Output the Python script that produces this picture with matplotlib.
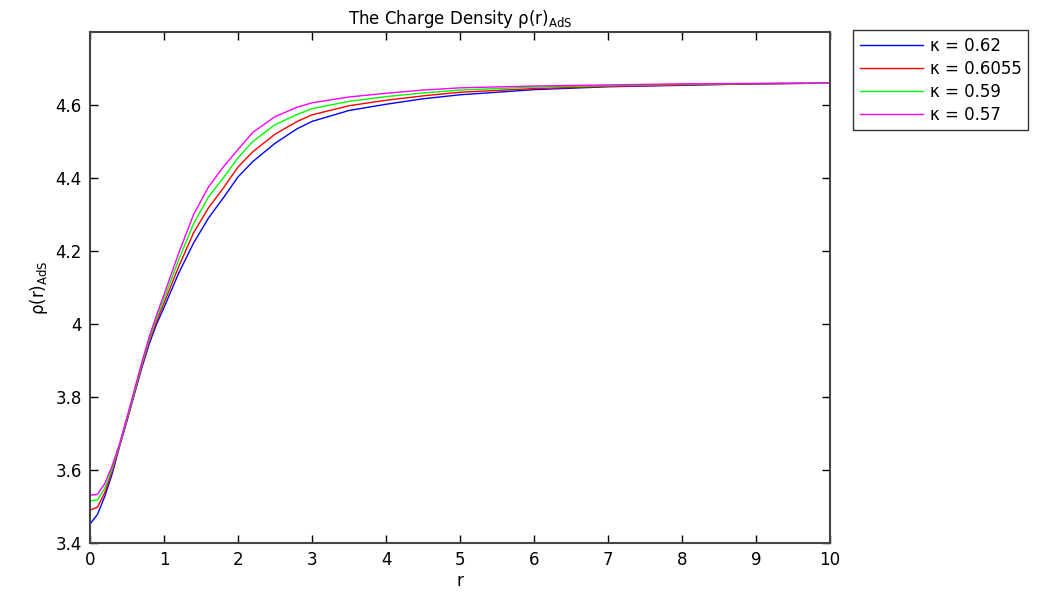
import matplotlib
matplotlib.use("Agg")
import matplotlib.pyplot as plt
from matplotlib.ticker import FuncFormatter

plt.rcParams['mathtext.default'] = 'regular'
plt.rcParams['font.family'] = ['DejaVu Sans']

r = [0, 0.1, 0.2, 0.3, 0.4, 0.5, 0.6, 0.7, 0.8, 0.9, 1.0, 1.2, 1.4, 1.6, 1.8,
     2.0, 2.2, 2.5, 2.8, 3.0, 3.5, 4.0, 4.5, 5.0, 6.0, 7.0, 8.0, 9.0, 10.0]

rho_062 = [3.452, 3.478, 3.528, 3.590, 3.665, 3.735, 3.808, 3.880, 3.945, 4.000,
           4.045, 4.140, 4.222, 4.290, 4.345, 4.403, 4.445, 4.495, 4.535, 4.555,
           4.585, 4.602, 4.617, 4.628, 4.642, 4.650, 4.654, 4.658, 4.660]
rho_06055 = [3.490, 3.498, 3.538, 3.598, 3.667, 3.738, 3.812, 3.885, 3.952, 4.008,
             4.057, 4.158, 4.250, 4.318, 4.372, 4.430, 4.472, 4.520, 4.555, 4.573,
             4.598, 4.613, 4.625, 4.635, 4.645, 4.651, 4.655, 4.658, 4.660]
rho_059 = [3.515, 3.518, 3.550, 3.605, 3.670, 3.742, 3.815, 3.890, 3.958, 4.017,
           4.068, 4.177, 4.275, 4.348, 4.400, 4.455, 4.500, 4.546, 4.574, 4.590,
           4.610, 4.623, 4.633, 4.641, 4.649, 4.653, 4.657, 4.659, 4.660]
rho_057 = [3.531, 3.533, 3.563, 3.612, 3.672, 3.745, 3.820, 3.895, 3.965, 4.025,
           4.080, 4.195, 4.300, 4.375, 4.430, 4.478, 4.525, 4.568, 4.594, 4.606,
           4.622, 4.632, 4.641, 4.647, 4.652, 4.655, 4.658, 4.659, 4.660]

labels = ['κ = 0.62', 'κ = 0.6055', 'κ = 0.59', 'κ = 0.57']
colors = ['#0000ff', '#ff0000', '#00ff00', '#ff00ff']
series = [rho_062, rho_06055, rho_059, rho_057]

fig = plt.figure(figsize=(10.37, 5.95), dpi=100)
ax = fig.add_axes([90/1037, 52/595, 740/1037, 511/595])

for y, c, lab in zip(series, colors, labels):
    ax.plot(r, y, color=c, lw=1.0, label=lab)

ax.set_xlim(0, 10)
ax.set_ylim(3.4, 4.8)
ax.set_xticks(range(0, 11))
ax.set_yticks([3.4, 3.6, 3.8, 4.0, 4.2, 4.4, 4.6])
ax.yaxis.set_major_formatter(FuncFormatter(lambda v, p: f"{v:g}"))
ax.tick_params(direction='in', top=True, right=True, length=6, width=1,
               labelsize=12, colors='#000000', pad=6)
for s in ax.spines.values():
    s.set_color('#444444')
    s.set_linewidth(1.5)

ax.set_xlabel('r', fontsize=12, labelpad=2)
ax.set_ylabel(r'$\rho(r)_{AdS}$', fontsize=12, labelpad=4)
ax.set_title(r'The Charge Density $\rho(r)_{AdS}$', fontsize=12, pad=6)

leg = fig.legend(loc='upper left', bbox_to_anchor=(853/1037, 1 - 30/595),
                 fontsize=12, frameon=True, fancybox=False, borderaxespad=0,
                 handlelength=3.8, handletextpad=0.4, labelspacing=0.3,
                 borderpad=0.4)
leg.get_frame().set_edgecolor('#000000')
leg.get_frame().set_linewidth(1.0)

fig.savefig('out.png', dpi=100)
